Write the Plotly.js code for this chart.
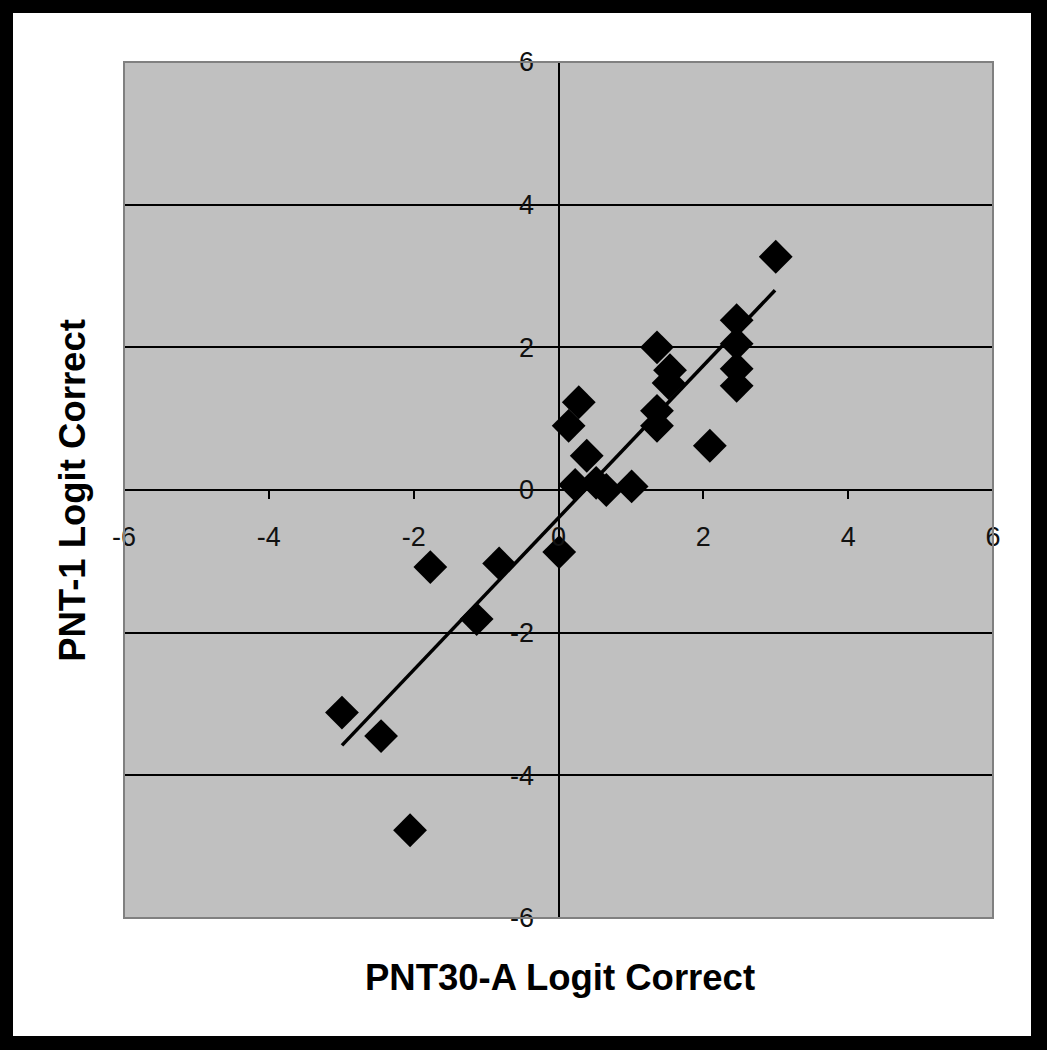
<!DOCTYPE html>
<html>
<head>
<meta charset="utf-8">
<script src="https://cdn.plot.ly/plotly-3.0.1.min.js"></script>
<style>
  html, body { margin: 0; padding: 0; background: #000; width: 1047px; height: 1050px; overflow: hidden; }
  #frame { position: absolute; left: 13px; top: 13px; width: 1018px; height: 1023px; background: #fff; }
  #chart { width: 1018px; height: 1023px; }
</style>
</head>
<body>
<div id="frame"><div id="chart"></div></div>
<script>
// PNT30-A logit correct (x) vs PNT-1 logit correct (y)
const pnt30A = [-2.99, -2.45, -2.05, -1.77, -1.13, -0.82, 0.01, 0.14, 0.28, 0.39, 0.23, 0.52, 0.66, 1.01, 1.36, 1.54, 1.52, 1.36, 1.36, 2.09, 2.46, 2.46, 2.46, 2.46, 3.00];
const pnt1   = [-3.12, -3.45, -4.77, -1.08, -1.81, -1.03, -0.87, 0.90, 1.23, 0.48, 0.07, 0.10, 0.00, 0.05, 2.00, 1.68, 1.50, 1.11, 0.90, 0.62, 2.38, 2.05, 1.70, 1.46, 3.27];
// Linear trend line end points
const trendX = [-2.99, 2.99];
const trendY = [-3.58, 2.80];
const tickVals = [-6, -4, -2, 0, 2, 4, 6];
const tickText = ["-6", "-4", "-2", "0", "2", "4", "6"];
const xTitle = "PNT30-A Logit Correct";
const yTitle = "PNT-1 Logit Correct";

const FONT = "'Liberation Sans', Arial, sans-serif";

const traces = [
  {
    x: pnt30A, y: pnt1, type: "scatter", mode: "markers",
    marker: { symbol: "diamond", size: 26, color: "#000", line: { width: 0 } },
    hoverinfo: "x+y", showlegend: false
  },
  {
    x: trendX, y: trendY, type: "scatter", mode: "lines",
    line: { color: "#000", width: 3.5 },
    hoverinfo: "skip", showlegend: false
  }
];

const axisCommon = {
  range: [-6, 6],
  tickvals: tickVals,
  ticktext: tickText,
  ticks: "outside",
  ticklen: 8,
  tickwidth: 2,
  tickcolor: "#000",
  showline: true,
  linecolor: "#000",
  linewidth: 2,
  zeroline: false,
  anchor: "free",
  position: 0.5,
  tickfont: { family: FONT, size: 27, color: "#111" },
  fixedrange: true
};

const layout = {
  width: 1018, height: 1023,
  margin: { l: 111, r: 38, t: 49, b: 118, pad: 0 },
  paper_bgcolor: "#fff",
  plot_bgcolor: "#c0c0c0",
  xaxis: Object.assign({}, axisCommon, { showgrid: false, ticklabelstandoff: 15 }),
  yaxis: Object.assign({}, axisCommon, { showgrid: true, gridcolor: "#000", gridwidth: 2, ticklabelstandoff: 10 }),
  shapes: [
    { type: "rect", xref: "paper", yref: "paper", x0: 0, x1: 1, y0: 0, y1: 1,
      line: { color: "#808080", width: 2 }, fillcolor: "rgba(0,0,0,0)", layer: "above" }
  ],
  annotations: [
    { text: "<b>" + xTitle + "</b>", xref: "paper", yref: "paper", x: 0.502, y: -0.069,
      xanchor: "center", yanchor: "middle", showarrow: false,
      font: { family: FONT, size: 36.5, color: "#000" } },
    { text: "<b>" + yTitle + "</b>", xref: "paper", yref: "paper", x: -0.060, y: 0.5,
      xanchor: "center", yanchor: "middle", showarrow: false, textangle: -90,
      font: { family: FONT, size: 36.5, color: "#000" } }
  ]
};

Plotly.newPlot("chart", traces, layout, { displayModeBar: false, staticPlot: true });
</script>
</body>
</html>
